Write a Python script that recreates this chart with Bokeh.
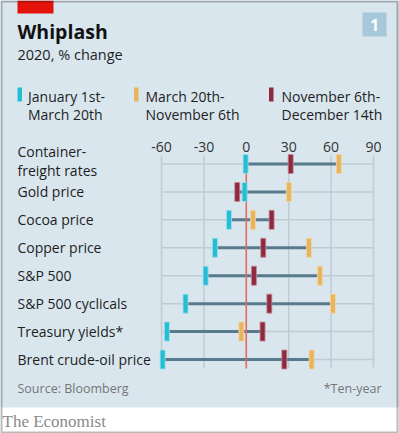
from bokeh.plotting import figure
from bokeh.models import Range1d, Label, BoxAnnotation, ColumnDataSource
from bokeh.core.properties import value
from bokeh.embed import file_html
from bokeh.resources import INLINE

# ---------------- data ----------------
categories = ["Container-\nfreight rates", "Gold price", "Cocoa price", "Copper price",
              "S&P 500", "S&P 500 cyclicals", "Treasury yields*", "Brent crude-oil price"]
jan_mar = [-0.5, -1.2, -12.3, -22.2, -28.8, -43.0, -56.2, -59.2]
mar_nov = [65.5, 30.1, 4.7, 44.3, 52.1, 61.3, -3.5, 46.2]
nov_dec = [31.4, -6.4, 17.9, 12.0, 5.4, 16.3, 11.5, 26.9]
ticks = [-60, -30, 0, 30, 60, 90]
tick_labels = ["-60", "-30", "0", "30", "60", "90"]
series_names = ["January 1st-\nMarch 20th", "March 20th-\nNovember 6th", "November 6th-\nDecember 14th"]
series_colors = ["#25bdd3", "#e8b45e", "#8e2a3f"]
series_edges = ["#9fe0ea", "#f5d6a4", "#c98994"]

title = "Whiplash"
subtitle = "2020, % change"
source = "Source: Bloomberg"
footnote = "*Ten-year"
brand = "The Economist"

# ---------------- layout (window pixels) ----------------
W, H = 399, 433
BG = "#d9e6ee"
GRID = "#bfccd4"
FONT = "Open Sans"
PX_LEFT, PX_RIGHT = 161, 373          # where first / last tick fall
k = (PX_RIGHT - PX_LEFT) / (ticks[-1] - ticks[0])
x_start = ticks[0] - PX_LEFT / k
x_end = ticks[-1] + (W - PX_RIGHT) / k
ROW0, ROW_H = 163.5, 27.93
n = len(categories)
rows = list(range(n))


def dy(wy):
    """window y (px, top-down) -> data y"""
    return (wy - ROW0) / ROW_H


def dx(wx):
    return x_start + wx / k


def sy(wy):
    return H - wy


p = figure(width=W, height=H, x_range=Range1d(x_start, x_end), y_range=Range1d(dy(H), dy(0)),
           x_axis_location=None, y_axis_location=None, output_backend="svg",
           toolbar_location=None, min_border=0)
p.background_fill_color = BG
p.border_fill_color = BG
p.outline_line_color = None
p.grid.visible = False

grid_top, grid_bottom = dy(155), dy(368)
# row lines
p.segment(x0=[ticks[0]] * n, x1=[ticks[-1]] * n, y0=rows, y1=rows, line_color=GRID, line_width=1.5)
# vertical grid
p.segment(x0=ticks, x1=ticks, y0=[grid_top] * len(ticks), y1=[grid_bottom] * len(ticks),
          line_color=GRID, line_width=1.5)
# tick labels
p.text(x=ticks, y=[dy(146.5)] * len(ticks), text=tick_labels, text_align="center",
       text_baseline="middle", text_font=value(FONT), text_font_size="14px", text_color="#333333")

lo = [min(a, b, c) for a, b, c in zip(jan_mar, mar_nov, nov_dec)]
hi = [max(a, b, c) for a, b, c in zip(jan_mar, mar_nov, nov_dec)]
p.segment(x0=lo, x1=hi, y0=rows, y1=rows, line_color="#587a8d", line_width=3)

# zero line (drawn over the range lines, under the markers)
p.segment(x0=[0], x1=[0], y0=[dy(156.5)], y1=[grid_bottom], line_color="#e6695c", line_width=1.5)

for vals, col, edge in zip([jan_mar, mar_nov, nov_dec], series_colors, series_edges):
    p.rect(x=vals, y=rows, width=5, height=19, width_units="screen", height_units="screen",
           fill_color=col, line_color=edge, line_width=0.8)

# category labels
offs = [-3.5 if "\n" in c else 0 for c in categories]
src = ColumnDataSource(dict(x=[dx(17)] * n, y=rows, t=categories, o=offs))
p.text(x="x", y="y", text="t", y_offset="o", source=src, text_baseline="middle", text_align="left",
       text_font=value(FONT), text_font_size="14px", text_color="#1e1e1e", text_line_height=1.0)


def box(l, r, t, b, color, **kw):
    p.add_layout(BoxAnnotation(left=l, right=r, top=sy(t), bottom=sy(b), left_units="screen",
                               right_units="screen", top_units="screen", bottom_units="screen",
                               fill_color=color, fill_alpha=1 if color else 0, line_color=kw.get("lc"),
                               line_width=kw.get("lw", 1)))


def label(x, y, text, size, color, **kw):
    p.add_layout(Label(x=x, y=sy(y), x_units="screen", y_units="screen", text=text,
                       text_font=kw.get("font", FONT), text_font_size=size, text_color=color,
                       text_font_style=kw.get("style", "normal"), text_align=kw.get("align", "left"),
                       text_baseline="middle"))


# ---------------- header ----------------
box(17, 53, 0, 13, "#e3120b")
box(362, 386, 12, 36, "#a6c8da")
label(374, 24.5, "1", "16px", "white", style="bold", align="center")
label(17, 31, title, "19.5px", "#111111", style="bold")
label(17, 54, subtitle, "14.5px", "#1e1e1e")

# legend
leg_sw = [17, 133.5, 268.5]
leg_tx = [27.5, 145, 281]
for name, col, sx0, tx in zip(series_names, series_colors, leg_sw, leg_tx):
    box(sx0, sx0 + 4.5, 87, 101, col)
    for i, line in enumerate(name.split("\n")):
        label(tx, 95.5 + 18.5 * i, line, "14px", "#1e1e1e")

# ---------------- footer ----------------
label(17, 387.5, source, "12.5px", "#767676")
label(381, 387.5, footnote, "12.5px", "#767676", align="right")
box(0, W, 407, H, "white")
label(2, 420.5, brand, "17px", "#8a8a8a", font="Liberation Serif")
# outer frame
box(1, W - 2, 1, H - 1, None, lc="#1a1a1a", lw=2)

open("out.html", "w").write(file_html(p, INLINE))
